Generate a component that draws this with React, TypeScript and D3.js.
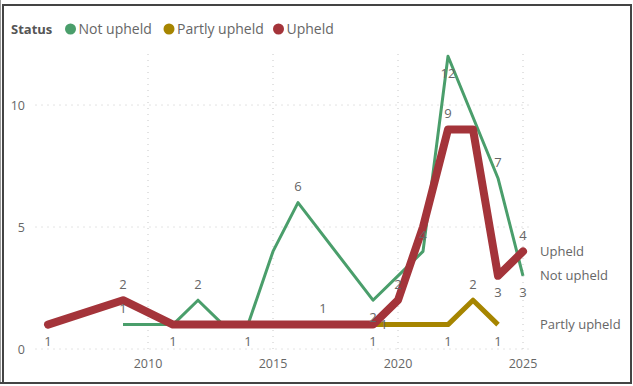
import React from "react";
import * as d3 from "d3";

const W = 633;
const H = 386;

const seriesNames = ["Not upheld", "Partly upheld", "Upheld"];
const seriesColors = ["#4A9E6B", "#A68500", "#A4343A"];
const seriesWidths = [3, 5, 8];

const notUpheldYears = [2009, 2010, 2011, 2012, 2013, 2014, 2015, 2016, 2019, 2020, 2021, 2022, 2024, 2025];
const notUpheldValues = [1, 1, 1, 2, 1, 1, 4, 6, 2, 3, 4, 12, 7, 3];

const partlyYears = [2019, 2020, 2021, 2022, 2023, 2024];
const partlyValues = [1, 1, 1, 1, 2, 1];

const upheldYears = [2006, 2009, 2011, 2012, 2013, 2014, 2015, 2016, 2017, 2018, 2019, 2020, 2021, 2022, 2023, 2024, 2025];
const upheldValues = [1, 2, 1, 1, 1, 1, 1, 1, 1, 1, 1, 2, 5, 9, 9, 3, 4];

const xTicks = [2010, 2015, 2020, 2025];
const yTicks = [0, 5, 10];

// visible data labels: [series index, year, side]
const shownLabels: [number, number, string][] = [
  [2, 2006, "below"], [2, 2009, "above"], [2, 2011, "below"], [2, 2014, "below"],
  [2, 2017, "above"], [2, 2019, "below"], [2, 2020, "above"], [2, 2022, "above"],
  [2, 2024, "below"], [2, 2025, "above"],
  [0, 2009, "above"], [0, 2012, "above"], [0, 2016, "above"], [0, 2019, "below"],
  [0, 2021, "above"], [0, 2022, "below"], [0, 2024, "above"], [0, 2025, "below"],
  [1, 2019, "right"], [1, 2022, "below"], [1, 2023, "above"], [1, 2024, "below"],
];

const FONT = "'Segoe UI', 'Open Sans', sans-serif";

export default function App() {
  const x = d3.scaleLinear().domain([2005.5, 2025.36]).range([35.5, 532]);
  const y = d3.scaleLinear().domain([0, 12.1]).range([349, 53.8]);

  const data = [
    notUpheldYears.map((yr, i) => [yr, notUpheldValues[i]] as [number, number]),
    partlyYears.map((yr, i) => [yr, partlyValues[i]] as [number, number]),
    upheldYears.map((yr, i) => [yr, upheldValues[i]] as [number, number]),
  ];

  const line = d3
    .line<[number, number]>()
    .x((d) => x(d[0]))
    .y((d) => y(d[1]));

  const [x0, x1] = x.range();
  const [yb, yt] = y.range();

  const valueOf = (s: number, yr: number) => {
    const p = data[s].find((d) => d[0] === yr);
    return p ? p[1] : 0;
  };

  // end labels: last point of each series
  const endLabelOffsets = [0, 0, 0];
  const endLabels = data.map((d, i) => {
    const last = d[d.length - 1];
    return { name: seriesNames[i], yPos: y(last[1]) + endLabelOffsets[i] };
  });

  return (
    <svg
      width={W}
      height={H}
      style={{ position: "absolute", left: 0, top: 0, fontFamily: FONT }}
    >
      <rect x={0} y={0} width={W} height={H} fill="#fff" />
      {/* frame */}
      <line x1={0.5} y1={0} x2={0.5} y2={384} stroke="#9a9a9a" strokeWidth={1} />
      <line x1={3} y1={4} x2={3} y2={384} stroke="#444" strokeWidth={2} />
      <line x1={2} y1={5} x2={632} y2={5} stroke="#444" strokeWidth={2} />
      <line x1={631} y1={4} x2={631} y2={382} stroke="#444" strokeWidth={2} />
      <line x1={0} y1={383} x2={632} y2={383} stroke="#444" strokeWidth={2} />

      {/* legend */}
      <text x={11} y={34} fontSize={13} fontWeight="bold" fill="#555">
        Status
      </text>
      {[70.5, 169, 278.5].map((cx, i) => (
        <g key={i}>
          <circle cx={cx} cy={29} r={5.5} fill={seriesColors[i]} />
          <text x={cx + 8} y={34} fontSize={14} fill="#666">
            {seriesNames[i]}
          </text>
        </g>
      ))}

      {/* grid */}
      {yTicks.map((t) => (
        <line
          key={"gy" + t}
          x1={x0}
          x2={x1}
          y1={y(t)}
          y2={y(t)}
          stroke="#c8c8c8"
          strokeWidth={1}
          strokeDasharray="1,5"
        />
      ))}
      {xTicks.map((t) => (
        <line
          key={"gx" + t}
          x1={x(t)}
          x2={x(t)}
          y1={yb}
          y2={yt}
          stroke="#c8c8c8"
          strokeWidth={1}
          strokeDasharray="1,5"
        />
      ))}

      {/* axis labels */}
      {yTicks.map((t) => (
        <text
          key={"ty" + t}
          x={25}
          y={y(t) + 4.5}
          textAnchor="end"
          fontSize={12.5}
          fill="#666"
        >
          {t}
        </text>
      ))}
      {xTicks.map((t) => (
        <text
          key={"tx" + t}
          x={x(t)}
          y={368}
          textAnchor="middle"
          fontSize={12.5}
          fill="#666"
        >
          {t}
        </text>
      ))}

      {/* lines */}
      {data.map((d, i) => (
        <path
          key={"l" + i}
          d={line(d) || ""}
          fill="none"
          stroke={seriesColors[i]}
          strokeWidth={seriesWidths[i]}
          strokeLinejoin="round"
          strokeLinecap={i === 2 ? "round" : "butt"}
        />
      ))}

      {/* data labels */}
      {shownLabels.map(([s, yr, side], k) => {
        const v = valueOf(s, yr);
        const px = x(yr);
        const py = y(v);
        let lx = px;
        let ly = py;
        if (side === "above") ly = py - 16;
        else if (side === "below") ly = py + 17;
        else {
          lx = px + 11;
          ly = py;
        }
        return (
          <text
            key={"dl" + k}
            x={lx}
            y={ly + 4.5}
            textAnchor="middle"
            fontSize={13}
            fill="#666"
          >
            {v}
          </text>
        );
      })}

      {/* end labels */}
      {endLabels.map((e, i) => (
        <text key={"el" + i} x={540} y={e.yPos + 4.5} fontSize={13} fill="#666">
          {e.name}
        </text>
      ))}
    </svg>
  );
}
